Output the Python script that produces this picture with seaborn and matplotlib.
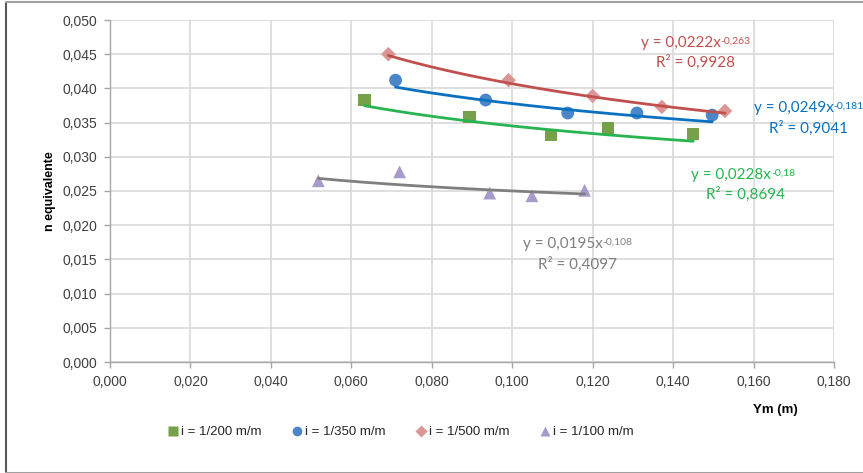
import numpy as np
import pandas as pd
import matplotlib
matplotlib.use("Agg")
import matplotlib.pyplot as plt
from matplotlib.lines import Line2D
import seaborn as sns

# Measured points per slope series: Ym (m) and equivalent Manning n
series = ["i = 1/200 m/m", "i = 1/350 m/m", "i = 1/500 m/m", "i = 1/100 m/m"]

ym_200 = [0.0633, 0.0894, 0.1096, 0.1238, 0.1450]
n_200 = [0.0383, 0.0358, 0.0332, 0.0342, 0.0333]

ym_350 = [0.0710, 0.0934, 0.1138, 0.1310, 0.1497]
n_350 = [0.0412, 0.0383, 0.0364, 0.0364, 0.0361]

ym_500 = [0.0692, 0.0991, 0.1200, 0.1372, 0.1529]
n_500 = [0.0450, 0.0412, 0.0389, 0.0373, 0.0367]

ym_100 = [0.0518, 0.0720, 0.0944, 0.1049, 0.1180]
n_100 = [0.0265, 0.0278, 0.0247, 0.0243, 0.0251]

# Power trendline fits: n = a * Ym^b
fit_a = [0.0228, 0.0249, 0.0222, 0.0195]
fit_b = [-0.18, -0.181, -0.263, -0.108]
fit_r2 = ["0,8694", "0,9041", "0,9928", "0,4097"]
fit_a_txt = ["0,0228", "0,0249", "0,0222", "0,0195"]
fit_b_txt = ["-0,18", "-0,181", "-0,263", "-0,108"]

x_ticks = [0.0, 0.02, 0.04, 0.06, 0.08, 0.10, 0.12, 0.14, 0.16, 0.18]
y_ticks = [0.0, 0.005, 0.010, 0.015, 0.020, 0.025, 0.030, 0.035, 0.040, 0.045, 0.050]

xs = [ym_200, ym_350, ym_500, ym_100]
ys = [n_200, n_350, n_500, n_100]

df = pd.DataFrame({
    "Ym": np.concatenate(xs),
    "n": np.concatenate(ys),
    "serie": np.repeat(series, [len(v) for v in xs]),
})

marker_colors = {series[0]: "#76A04A", series[1]: "#4A86C8",
                 series[2]: "#DA9694", series[3]: "#A99BC9"}
marker_shapes = {series[0]: "s", series[1]: "o", series[2]: "D", series[3]: "^"}
marker_sizes = {series[0]: 80, series[1]: 85, series[2]: 55, series[3]: 85}
line_colors = ["#28B450", "#0A70C0", "#C0504D", "#7F7F7F"]

# Equation label anchors (left edge of the equation line, data coordinates)
label_pos = [(0.1445, 0.02734), (0.1601, 0.03713), (0.1320, 0.04664), (0.1026, 0.01725)]

sns.set_theme(style="white")
plt.rcParams["font.family"] = ["Liberation Sans", "DejaVu Sans"]

fig = plt.figure(figsize=(8.63, 4.73), dpi=100)
ax = fig.add_axes([110 / 863, 1 - 362 / 473, (834 - 110) / 863, (362 - 20) / 473])

for name in series:
    sub = df[df["serie"] == name]
    sns.scatterplot(data=sub, x="Ym", y="n", ax=ax, color=marker_colors[name],
                    marker=marker_shapes[name], s=marker_sizes[name],
                    edgecolor="none", linewidth=0, zorder=3, legend=False)

for i, name in enumerate(series):
    xfit = np.linspace(min(xs[i]), max(xs[i]), 200)
    yfit = fit_a[i] * xfit ** fit_b[i]
    sns.lineplot(x=xfit, y=yfit, ax=ax, color=line_colors[i], linewidth=2.0,
                 zorder=4, legend=False, sort=False, estimator=None)
    lx, ly = label_pos[i]
    main = ax.text(lx, ly, "y = %sx" % fit_a_txt[i], color=line_colors[i],
                   fontsize=11, ha="left", va="center", family="Lato", zorder=5)
    ax.annotate(fit_b_txt[i], xy=(1.0, 0.95), xycoords=main, ha="left", va="top",
                fontsize=7.5, color=line_colors[i], family="Lato", zorder=5)
    ax.text(lx + 0.0037, ly - 0.0029, "R² = %s" % fit_r2[i], color=line_colors[i],
            fontsize=11, ha="left", va="center", family="Lato", zorder=5)

ax.set_xlim(0, 0.18)
ax.set_ylim(0, 0.05)
ax.set_xticks(x_ticks)
ax.set_yticks(y_ticks)
ax.set_xticklabels([f"{v:.3f}".replace(".", ",") for v in x_ticks])
ax.set_yticklabels([f"{v:.3f}".replace(".", ",") for v in y_ticks])
ax.tick_params(axis="both", labelsize=10, length=4, width=1,
               direction="out", pad=5, bottom=True, left=True,
               colors="#A6A6A6", labelcolor="#404040")
ax.grid(True, color="#D9D9D9", linewidth=1.2)
ax.set_axisbelow(True)
for side in ["top", "right"]:
    ax.spines[side].set_visible(False)
for side in ["left", "bottom"]:
    ax.spines[side].set_color("#A6A6A6")
    ax.spines[side].set_linewidth(1)
ax.set_xlabel("")
ax.set_ylabel("")

fig.text(50 / 863, 1 - 191 / 473, "n equivalente", rotation=90, ha="center",
         va="center", fontsize=9, fontweight="bold", color="#000000")
fig.text(775 / 863, 1 - 410 / 473, "Ym (m)", ha="center", va="center",
         fontsize=9.5, fontweight="bold", color="#000000")

handles = [Line2D([], [], linestyle="none", marker=marker_shapes[n],
                  markerfacecolor=marker_colors[n], markeredgecolor="none",
                  markersize=7 if marker_shapes[n] != "D" else 6)
           for n in series]
fig.legend(handles, series, loc="center", bbox_to_anchor=(400 / 863, 1 - 432 / 473),
           ncol=4, frameon=False, fontsize=9.5, handletextpad=0.1,
           columnspacing=2.2, handlelength=1.0)

# Chart area border
fig.add_artist(Line2D([6 / 863, 6 / 863], [0.003, 1 - 3 / 473], transform=fig.transFigure,
                      color="#595959", linewidth=1.5))
fig.add_artist(Line2D([6 / 863, 1.0], [1 - 2.5 / 473, 1 - 2.5 / 473],
                      transform=fig.transFigure, color="#A0A0A0", linewidth=1.5))
fig.add_artist(Line2D([6 / 863, 1.0], [0.5 / 473, 0.5 / 473],
                      transform=fig.transFigure, color="#A0A0A0", linewidth=1.5))

fig.savefig("out.png", dpi=100)
